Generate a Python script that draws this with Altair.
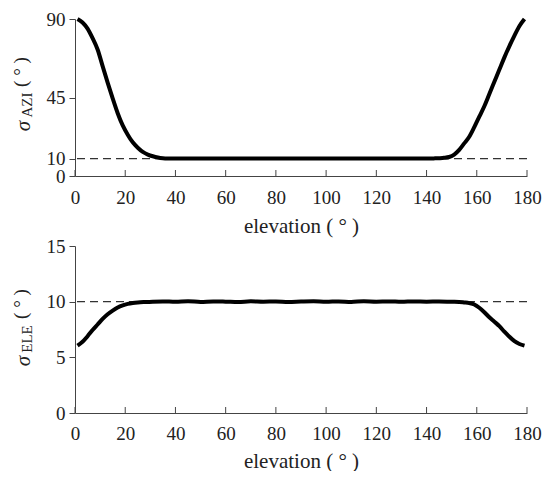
import altair as alt
import pandas as pd

FONT = "Liberation Serif"
W = 452

elev_ticks = [0, 20, 40, 60, 80, 100, 120, 140, 160, 180]
azi_ticks = [0, 10, 45, 90]
ele_ticks = [0, 5, 10, 15]
ref_level = [10]

azi_elev = [1, 3, 5, 7, 9, 11, 13, 15, 17, 19,
            21, 23, 25, 27, 29, 31, 33, 35, 37, 40,
            45, 50, 60, 70, 80, 90, 100, 110, 120, 130,
            135, 140, 143, 145, 147, 149, 151, 153, 155, 157,
            159, 161, 163, 165, 167, 169, 171, 173, 175, 177,
            179]
azi_vals = [90, 88, 84.5, 79, 72.5, 63, 53.5, 44.5, 36, 29,
            23.7, 19.3, 16.2, 13.8, 12.3, 11.3, 10.6, 10.2, 10.05, 10,
            10, 10, 10, 10, 10, 10, 10, 10, 10, 10,
            10, 10.02, 10.1, 10.2, 10.4, 10.9, 12.3, 15, 18.7, 22.5,
            28, 34, 40, 47, 54, 61, 68, 74.5, 80.5, 86,
            90]

ele_elev = [1, 3, 5, 7, 9, 11, 13, 15, 17, 19,
            21, 23, 25, 28, 31, 35, 40, 45, 50, 55,
            60, 65, 70, 75, 80, 85, 90, 95, 100, 105,
            110, 115, 120, 125, 130, 135, 140, 145, 150, 153,
            155, 157, 159, 161, 163, 165, 167, 169, 171, 173,
            175, 177, 179]
ele_vals = [6.05, 6.4, 6.9, 7.45, 7.95, 8.45, 8.87, 9.2, 9.48, 9.67,
            9.8, 9.88, 9.93, 9.97, 10.0, 10.02, 9.99, 10.03, 9.98, 10.02,
            10.0, 9.97, 10.03, 10.0, 10.02, 9.98, 10.01, 10.03, 9.99, 10.02,
            9.98, 10.03, 10.0, 10.02, 9.99, 10.02, 10.0, 10.01, 9.99, 9.98,
            9.93, 9.87, 9.75, 9.45, 9.05, 8.6, 8.2, 7.8, 7.3, 6.85,
            6.45, 6.2, 6.05]


def panel(elev, vals, ydomain, yticks, sub, H, ys, lpad, tpad):
    df = pd.DataFrame({"elev": elev, "val": vals})
    xenc = alt.X("elev:Q", scale=alt.Scale(domain=[0, 180], nice=False),
                 axis=alt.Axis(values=elev_ticks, title="elevation ( ° )",
                               tickSize=0, labelPadding=lpad, titlePadding=tpad,
                               labelOverlap=False, labelFlush=False))
    yenc = alt.Y("val:Q", scale=alt.Scale(domain=ydomain, nice=False),
                 axis=alt.Axis(values=yticks, title=None, tickSize=6, labelPadding=4,
                               labelOverlap=False, labelFlush=False))
    line = alt.Chart(df).mark_line(color="black", strokeWidth=4,
                                   interpolate="monotone").encode(x=xenc, y=yenc)
    ref = alt.Chart(pd.DataFrame({"r": ref_level})).mark_rule(
        color="#333", strokeWidth=1.3, strokeDash=[8, 5]).encode(y="r:Q")
    ticks = alt.Chart(pd.DataFrame({"t": elev_ticks})).mark_rule(
        color="#444", strokeWidth=1).encode(x="t:Q", y=alt.value(H), y2=alt.value(H - 6))
    one = pd.DataFrame({"a": [0]})
    sig = alt.Chart(one).mark_text(text="σ", font=FONT, fontSize=21, fontStyle="italic",
                                   angle=270, align="center", baseline="middle",
                                   color="#222").encode(x=alt.value(-51), y=alt.value(ys[0]))
    subt = alt.Chart(one).mark_text(text=sub, font=FONT, fontSize=15,
                                    angle=270, align="center", baseline="middle",
                                    color="#222").encode(x=alt.value(-48), y=alt.value(ys[1]))
    par = alt.Chart(one).mark_text(text="( ° )", font=FONT, fontSize=19,
                                   angle=270, align="center", baseline="middle",
                                   color="#222").encode(x=alt.value(-54), y=alt.value(ys[2]))
    return alt.layer(ref, line, ticks, sig, subt, par).properties(width=W, height=H)


top = panel(azi_elev, azi_vals, [0, 90], azi_ticks, "AZI", 157, [107, 86, 53], 12, 8)
bottom = panel(ele_elev, ele_vals, [0, 15], ele_ticks, "ELE", 167, [115, 93, 58], 11, 7)

chart = alt.vconcat(top, bottom, spacing=1).properties(
    padding={"left": 4, "top": 2, "right": 0, "bottom": 0}
).configure_axis(
    labelFont=FONT, titleFont=FONT, labelFontSize=19, titleFontSize=21,
    titleFontWeight="normal", labelColor="#222", titleColor="#222",
    domainColor="#444", tickColor="#444", grid=False
).configure_view(stroke=None)

chart.save("out.html", embed_options={"renderer": "svg", "actions": False})
